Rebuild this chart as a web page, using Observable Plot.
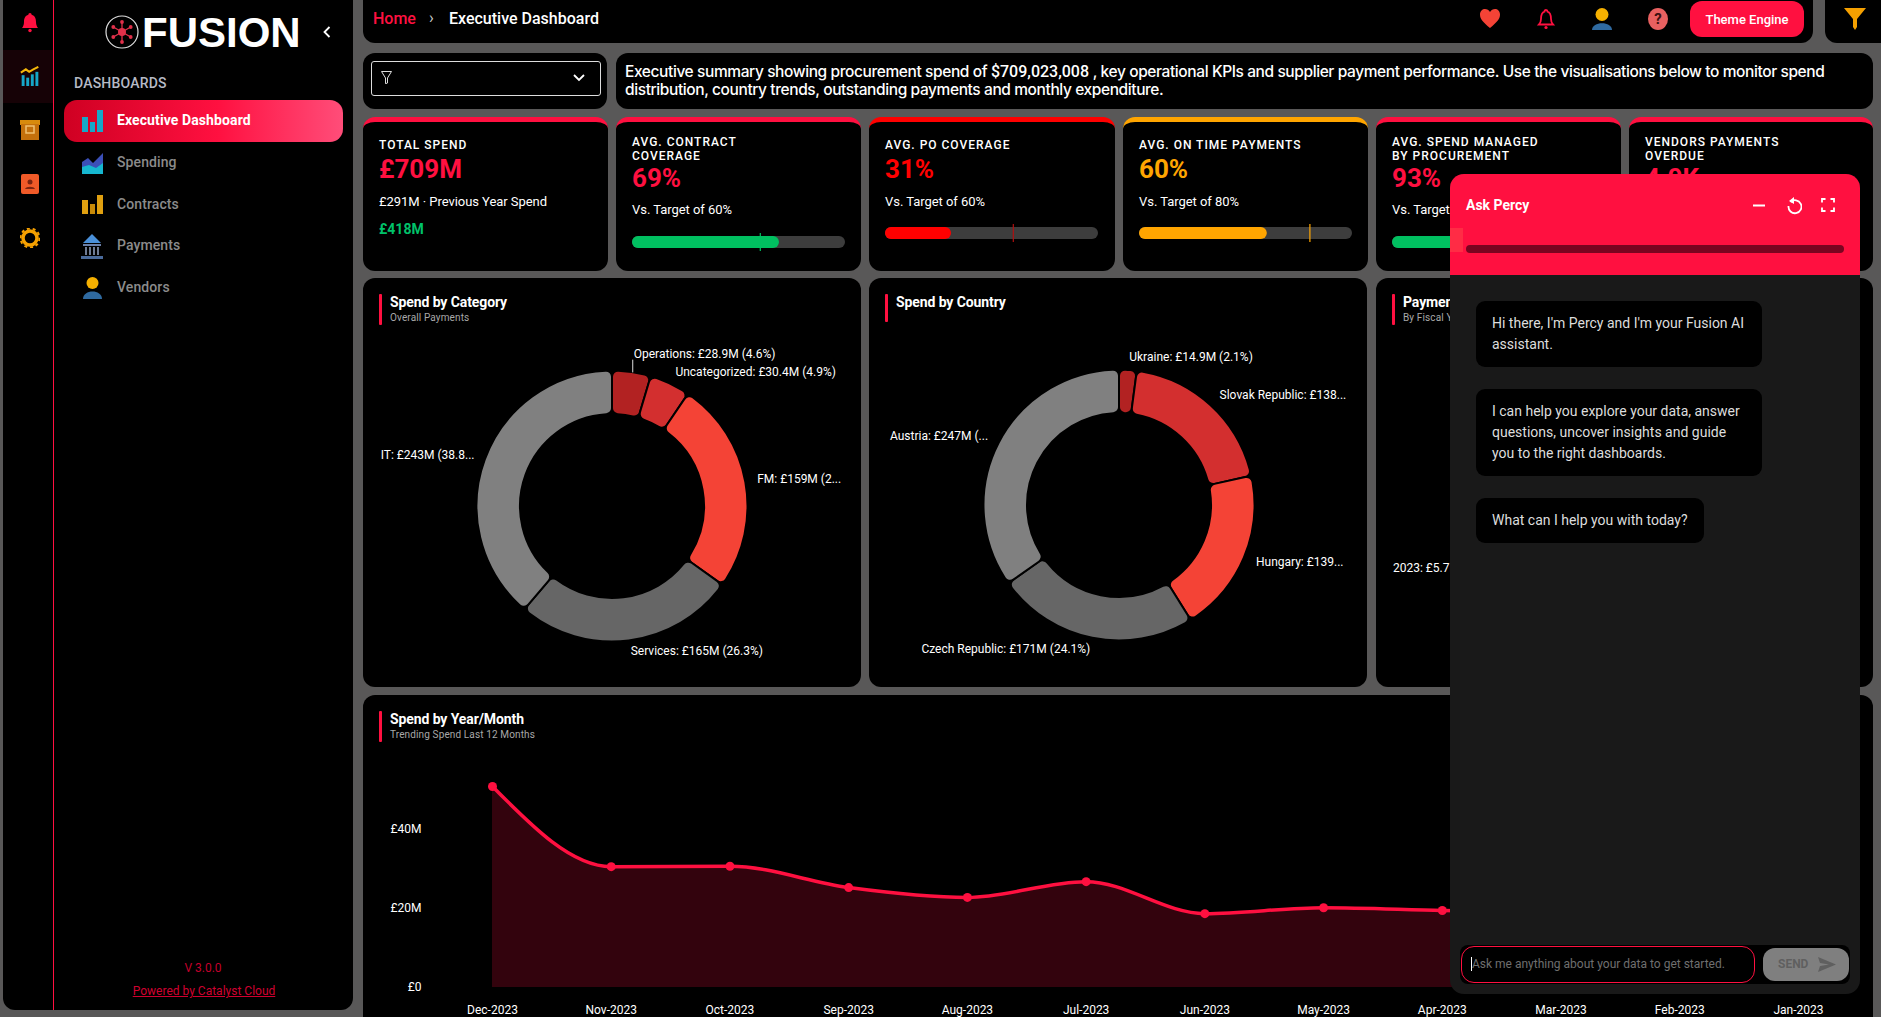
<!DOCTYPE html>
<html lang="en">
<head>
<meta charset="utf-8">
<title>Executive Dashboard</title>
<script src="https://cdn.jsdelivr.net/npm/d3@7"></script>
<script src="https://cdn.jsdelivr.net/npm/@observablehq/plot@0.6"></script>
<style>
html,body{margin:0;padding:0;background:#595858;overflow:hidden;width:1881px;height:1017px;font-family:Roboto,sans-serif;color:#fff}
.a{position:absolute}
.t{position:absolute;white-space:nowrap;line-height:1;transform:translateY(-50%)}
.card{position:absolute;background:#000;border-radius:12px}
.kpi{position:absolute;background:#000;border-radius:12px;top:117px;height:154px;border-top:5px solid #ff1040;box-sizing:border-box}
.ktitle{font-weight:500;font-size:12px;letter-spacing:1px}
.kval{font-weight:700;font-size:26px}
.ksub{font-size:13px;letter-spacing:-.05px}
.nav{font-size:14px;font-weight:500;color:#8b8b8b;letter-spacing:.1px}
.ct{font-weight:700;font-size:14px;letter-spacing:-.1px}
.cs{font-size:10px;color:#a8a8a8;letter-spacing:.13px}
.bub{position:absolute;left:1476px;background:#000;border-radius:9px;box-sizing:border-box;padding:12px 16px;font-size:14px;line-height:21px;color:#ddd}
svg{display:block}
.plot{position:absolute;overflow:visible}
</style>
</head>
<body>
<div id="root" class="a" style="left:0;top:0;width:1881px;height:1017px;overflow:hidden"></div>
<script>
// ---- data ----
const categoryNames  = ["Operations", "Uncategorized", "FM", "Services", "IT"];
const categorySpend  = [28.9, 30.4, 159, 165, 243];
const categoryLabels = ["Operations: £28.9M (4.6%)", "Uncategorized: £30.4M (4.9%)", "FM: £159M (2...", "Services: £165M (26.3%)", "IT: £243M (38.8..."];

const countryNames  = ["Ukraine", "Slovak Republic", "Hungary", "Czech Republic", "Austria"];
const countrySpend  = [14.9, 138, 139, 171, 247];
const countryLabels = ["Ukraine: £14.9M (2.1%)", "Slovak Republic: £138...", "Hungary: £139...", "Czech Republic: £171M (24.1%)", "Austria: £247M (..."];

const sliceColors = ["#b22222", "#d32f2f", "#f44336", "#666666", "#808080"];

const months = ["Dec-2023","Nov-2023","Oct-2023","Sep-2023","Aug-2023","Jul-2023","Jun-2023","May-2023","Apr-2023","Mar-2023","Feb-2023","Jan-2023"];
const monthlySpend = [50.9, 30.6, 30.7, 25.3, 22.8, 26.8, 18.7, 20.2, 19.5, 19.0, 18.0, 17.0]; // last three sit behind the chat panel

const kpiTitles = [["TOTAL SPEND"],["AVG. CONTRACT","COVERAGE"],["AVG. PO COVERAGE"],["AVG. ON TIME PAYMENTS"],["AVG. SPEND MANAGED","BY PROCUREMENT"],["VENDORS PAYMENTS","OVERDUE"]];
const kpiValues = ["£709M","69%","31%","60%","93%","4.0K"];
const kpiNotes  = ["£291M · Previous Year Spend","Vs. Target of 60%","Vs. Target of 60%","Vs. Target of 80%","Vs. Target",""];
const kpiActual = [null,69,31,60,93,null];
const kpiTarget = [null,60,60,80,80,null];
const kpiColors = ["#ff1040","#ff1040","#ff0000","#ffa500","#ff1040","#ff1040"];
const kpiBarColors = [null,"#00c060","#ff0000","#ffa500","#00c060",null];
const kpiTickColors = [null,"#00c060","#b01010","#ffa500","#00c060",null];

const navItems = ["Executive Dashboard","Spending","Contracts","Payments","Vendors"];

// ---- helpers ----
const root = document.getElementById("root");
function el(cls, style, html){const d=document.createElement("div");d.className=cls;d.style.cssText=style;if(html!==undefined)d.innerHTML=html;root.appendChild(d);return d;}
function txt(x,y,s,style="",cls=""){return el("t "+cls,`left:${x}px;top:${y}px;${style}`,s);}
function box(x,y,w,h,style=""){return el("a",`left:${x}px;top:${y}px;width:${w}px;height:${h}px;${style}`);}
function icon(x,y,w,h,inner,vb){return el("a",`left:${x}px;top:${y}px;width:${w}px;height:${h}px`,`<svg width="${w}" height="${h}" viewBox="${vb||`0 0 ${w} ${h}`}">${inner}</svg>`);}
function place(svg,x,y){svg.classList.add("plot");svg.style.left=x+"px";svg.style.top=y+"px";root.appendChild(svg);}

const RED="#ff1040";
const bell=(c)=>`<path d="M10 1c1 0 1.600.8 1.600 1.700C15 3.600 16 6.600 16 10c0 3 1 4.600 2 6H2c1-1.400 2-3 2-6 0-3.400 1-6.400 4.400-7.300C8.400 1.800 9 1 10 1z" fill="${c}"/><circle cx="10" cy="18.500" r="1.700" fill="${c}"/>`;

// ---- sidebar ----
box(3,-12,350,1022,"background:#000;border-radius:12px");
box(3,50,50,53,"background:#160206");
box(53,0,1,1010,`background:${RED}`);
icon(20,12,20,21,bell(RED));
icon(19,66,22,20,`<rect x="2" y="11" width="3.500" height="13" fill="#16a7c8"/><rect x="7.500" y="14" width="3.500" height="10" fill="#16a7c8"/><rect x="13" y="10" width="3.500" height="14" fill="#16a7c8"/><rect x="18.500" y="7" width="3.500" height="17" fill="#16a7c8"/><path d="M1 8l6-4 4 3 5-3 6-3" stroke="#f5b70a" stroke-width="2.400" fill="none"/>`,"0 0 24 24");
icon(20,120,20,20,`<rect x="0" y="0" width="20" height="5" fill="#d88a0c"/><rect x="1" y="4" width="18" height="16" fill="#c4700c"/><rect x="6" y="6" width="8" height="7" fill="none" stroke="#f0c070" stroke-width="1.500"/>`);
icon(21,174,18,20,`<rect width="18" height="20" rx="2" fill="#f05a28"/><circle cx="9" cy="8" r="2.500" fill="#7a2410"/><path d="M4 15c1-3 9-3 10 0z" fill="#7a2410"/>`);
icon(20,228,20,20,`<circle cx="10" cy="10" r="7" fill="none" stroke="#f5a000" stroke-width="3.500"/><circle cx="10" cy="10" r="9.500" fill="none" stroke="#f5a000" stroke-width="2" stroke-dasharray="3 2.900"/>`);

// logo
icon(105,15,34,34,`<circle cx="17" cy="17" r="16" fill="none" stroke="#ddd" stroke-width="1.200"/><g stroke="#e0304a" stroke-width="1.300"><path d="M17 7v20M8.300 12l17.400 10M25.700 12L8.300 22"/></g><circle cx="17" cy="17" r="4" fill="#e0304a"/><g fill="#e0304a"><circle cx="17" cy="7" r="1.900"/><circle cx="17" cy="27" r="1.900"/><circle cx="8.300" cy="12" r="1.900"/><circle cx="25.700" cy="12" r="1.900"/><circle cx="8.300" cy="22" r="1.900"/><circle cx="25.700" cy="22" r="1.900"/></g>`);
txt(142,33,"FUSION","font-family:'Liberation Sans';font-size:42px;font-weight:700");
icon(323,26,8,12,`<path d="M6.500 1L1.500 6l5 5" fill="none" stroke="#fff" stroke-width="1.800"/>`);
txt(74,83,"DASHBOARDS","font-size:14px;font-weight:500;color:#b6bac6;letter-spacing:.2px");
el("a","left:64px;top:100px;width:279px;height:42px;border-radius:13px;background:linear-gradient(90deg,#cf0022 0%,#ff1040 55%,#ff4d79 100%)");
navItems.forEach((n,i)=>txt(117,120+i*41.8,n,i===0?"color:#fff;font-weight:700":"","nav"));
// nav icons
icon(82,110,21,22,`<rect x="0" y="7" width="6" height="15" fill="#16a7c8"/><rect x="8" y="12" width="5" height="10" fill="#16a7c8"/><rect x="15" y="0" width="6" height="22" fill="#16a7c8"/>`);
icon(82,153,21,21,`<path d="M0 21V9l6-4 5 5 10-10v21z" fill="#3b4fb8"/><path d="M0 21v-7l7-2 7 3 7-5v11z" fill="#16b7d0"/>`);
icon(82,195,21,19,`<rect x="0" y="5" width="6" height="14" fill="#e0a010"/><rect x="8" y="9" width="5" height="10" fill="#c88a08"/><rect x="15" y="0" width="6" height="19" fill="#e0a010"/>`);
icon(80,234,24,26,`<path d="M12 0l9 9H3z" fill="#4a90d9"/><rect x="3" y="10" width="18" height="2" fill="#6a7fa8"/><path d="M6 13v8M10 13v8M14 13v8M18 13v8" stroke="#8a9ab8" stroke-width="1.600"/><rect x="1" y="22" width="22" height="3" fill="#4a6a9a"/>`);
icon(82,277,21,22,`<ellipse cx="10.500" cy="6" rx="6" ry="6" fill="#f5b000"/><path d="M1 22c0-10 19-10 19 0z" fill="#2f6aa0"/>`);
txt(203,968,"V 3.0.0","transform:translate(-50%,-50%);font-size:12px;color:#c4002c");
txt(204,991,"Powered by Catalyst Cloud","transform:translate(-50%,-50%);font-size:12px;color:#d00030;text-decoration:underline");

// ---- header ----
box(363,-12,1450,55,"background:#000;border-radius:12px");
box(1825,-12,70,55,"background:#000;border-radius:12px");
txt(373,19,"Home",`font-size:16px;font-weight:500;color:${RED}`);
txt(429,18,"›","font-size:16px;color:#ccc");
txt(449,19,"Executive Dashboard","font-size:16px;font-weight:500");
icon(1479,8,22,21,`<path d="M11 20C4 14 1 11 1 6.500 1 3 3.500 1 6 1c2 0 4 1 5 3 1-2 3-3 5-3 2.500 0 5 2 5 5.500C21 11 18 14 11 20z" fill="#f44336"/>`);
icon(1536,9,20,21,`<path d="M10 1c1 0 1.500.7 1.500 1.600C14.500 3.500 15 6.500 15 10c0 3 1 4.500 2 5.500H3C4 14.500 5 13 5 10c0-3.500.5-6.500 3.500-7.400C8.500 1.700 9 1 10 1z" fill="none" stroke="${RED}" stroke-width="1.800"/><circle cx="10" cy="18.500" r="1.600" fill="${RED}"/>`);
icon(1591,8,22,22,`<ellipse cx="11" cy="6.500" rx="6.500" ry="6.500" fill="#f5b000"/><path d="M1 22c0-9 20-9 20 0z" fill="#2f6aa0"/>`);
icon(1648,8,20,22,`<ellipse cx="10" cy="11" rx="10" ry="11" fill="#e86060"/><text x="10" y="16" text-anchor="middle" font-size="15" font-weight="700" font-family="Roboto" fill="#3a1010">?</text>`);
el("a",`left:1690px;top:1px;width:114px;height:36px;border-radius:12px;background:${RED};display:flex;align-items:center;justify-content:center;font-size:13px;font-weight:500`,"Theme Engine");
icon(1844,8,22,22,`<path d="M0 0h22L13 11v8l-2 3-2-3v-8z" fill="#f5a000"/>`);

// ---- filter + description ----
box(363,53,244,56,"background:#000;border-radius:12px");
box(371,61,228,33,"border:1px solid #ddd;border-radius:3px;box-sizing:content-box");
icon(381,71,11,13,`<path d="M.5.5h10L6.500 7v5l-2 .7V7z" fill="none" stroke="#ddd" stroke-width="1"/>`);
icon(573,74,12,8,`<path d="M1 1l5 5 5-5" fill="none" stroke="#fff" stroke-width="1.800"/>`);
box(616,53,1257,56,"background:#000;border-radius:12px");
const descStyle="font-family:Inter;font-size:15.5px;font-weight:500;letter-spacing:-.4px";
txt(625,72,"Executive summary showing procurement spend of <b style=\"font-family:Roboto;font-size:16px;font-weight:500;letter-spacing:0\">$709,023,008</b> , key operational KPIs and supplier payment performance. Use the visualisations below to monitor spend",descStyle);
txt(625,90,"distribution, country trends, outstanding payments and monthly expenditure.",descStyle);

// ---- KPI cards ----
const kpiX=[363,616,869,1123,1376,1629], kpiW=[245,245,246,245,245,244];
kpiTitles.forEach((lines,i)=>{
  el("kpi",`left:${kpiX[i]}px;width:${kpiW[i]}px;border-top-color:${kpiColors[i]}`);
  const x=kpiX[i]+16, two=lines.length>1;
  lines.forEach((l,j)=>txt(x,(two?142:145)+j*14,l,"","ktitle"));
  txt(x,two?178:169,kpiValues[i],`color:${kpiColors[i]}`,"kval");
  if(kpiNotes[i]) txt(x,two?208.5:201,kpiNotes[i],"","ksub");
  if(kpiActual[i]!=null){
    const bullet=Plot.plot({width:213,height:18,margin:0,style:{background:"transparent"},
      x:{domain:[0,100],axis:null},
      marks:[
        Plot.barX([0],{x1:0,x2:100,fill:"#3d3d3d",insetTop:3,insetBottom:3,rx:6}),
        Plot.barX([kpiActual[i]],{x1:0,x2:d=>d,fill:kpiBarColors[i],insetTop:3,insetBottom:3,rx:6}),
        Plot.ruleX([kpiTarget[i]],{stroke:kpiTickColors[i],strokeWidth:1.2})
      ]});
    place(bullet,x,two?233:224);
  }
});
txt(379,229,"£418M","font-size:14px;font-weight:700;color:#00c26a");

// ---- chart cards ----
el("card","left:363px;top:278px;width:498px;height:409px");
el("card","left:869px;top:278px;width:498px;height:409px");
el("card","left:1376px;top:278px;width:497px;height:409px");
el("card","left:363px;top:695px;width:1510px;height:340px");
function head(x,y,title,sub,h){
  box(x,y,3,h,`background:${RED};border-radius:1px`);
  txt(x+11,y+8,title,"","ct");
  if(sub) txt(x+11,y+24,sub,"","cs");
}
head(379,294,"Spend by Category","Overall Payments",31);
head(885,294,"Spend by Country","",28);
head(1392,294,"Payments","By Fiscal Year",31);
head(379,711,"Spend by Year/Month","Trending Spend Last 12 Months",31);
txt(1393,568,"2023: £5.7M","font-size:12px");

// ---- donuts ----
function donut(names,values,labels,left,top,LAB){
  const W=498,H=360,OUT=135.5,INN=92,MINGAP=18;
  const arcs=d3.pie().sort(null).value(d=>d)(values);
  const rows=arcs.map((a,i)=>{
    const mid=(a.startAngle+a.endAngle)/2;
    return {name:names[i],value:values[i],label:labels[i],a0:a.startAngle,a1:a.endAngle,mid,
      lx:Math.sin(mid)*LAB,ly:Math.cos(mid)*LAB,edge:Math.cos(mid)*OUT,lifted:false};
  });
  for(let i=rows.length-2;i>=0;i--){
    const r=rows[i],n=rows[i+1];
    if(r.lx>0&&n.lx>0&&r.ly>n.ly&&r.ly-n.ly<MINGAP){r.ly=n.ly+MINGAP;r.lifted=true;}
  }
  const lifted=rows.filter(r=>r.lifted);
  const svg=Plot.plot({width:W,height:H,margin:0,style:{background:"transparent",fontFamily:"Roboto"},
    x:{domain:[-W/2,W/2],axis:null},y:{domain:[-H/2,H/2],axis:null},
    color:{domain:names,range:sliceColors},
    marks:[
      Plot.dot(rows,{x:()=>0,y:()=>0,fill:"name",r:1,render(index,scales,values){
        const unit=scales.x(1)-scales.x(0);
        const arc=d3.arc().innerRadius(INN*unit).outerRadius(OUT*unit).cornerRadius(6);
        const g=d3.create("svg:g");
        for(const i of index){
          g.append("path")
           .attr("d",arc({startAngle:rows[i].a0,endAngle:rows[i].a1}))
           .attr("transform",`translate(${values.x[i]},${values.y[i]})`)
           .attr("fill",values.fill[i]).attr("stroke","#000").attr("stroke-width",2);
        }
        return g.node();
      }}),
      Plot.link(lifted,{x1:"lx",x2:"lx",y1:d=>d.ly-4,y2:"edge",stroke:"#ddd",strokeWidth:1,dx:-1}),
      Plot.text(rows.filter(r=>r.lx>=0),{x:"lx",y:"ly",text:"label",textAnchor:"start",fill:"#fff",fontSize:12,dy:-1}),
      Plot.text(rows.filter(r=>r.lx<0),{x:"lx",y:"ly",text:"label",textAnchor:"end",fill:"#fff",fontSize:12,dy:-1})
    ]});
  place(svg,left,top);
}
donut(categoryNames,categorySpend,categoryLabels,363,326,147);
donut(countryNames,countrySpend,countryLabels,869.5,324.5,148);

// ---- monthly line ----
const monthly=months.map((m,i)=>({month:m,spend:monthlySpend[i]}));
const line=Plot.plot({width:1510,height:322,marginLeft:129,marginRight:75,marginTop:55,marginBottom:30,
  style:{background:"transparent",fontFamily:"Roboto",fontSize:"12px",color:"#fff"},
  x:{type:"point",domain:months,padding:0,round:false,label:null},
  y:{domain:[0,60],label:null},
  marks:[
    Plot.areaY(monthly,{x:"month",y:"spend",curve:"monotone-x",fill:RED,fillOpacity:.2}),
    Plot.lineY(monthly,{x:"month",y:"spend",curve:"monotone-x",stroke:RED,strokeWidth:3.5}),
    Plot.dot(monthly,{x:"month",y:"spend",r:4.5,fill:RED}),
    Plot.axisY({ticks:[0,20,40],tickSize:0,tickPadding:71,tickFormat:d=>d===0?"£0":`£${d}M`,label:null,fill:"#fff"}),
    Plot.axisX({tickSize:0,tickPadding:18,label:null,fill:"#fff"})
  ]});
place(line,363,695);

// ---- chat panel ----
box(1450,174,410,820,"background:#191919;border-radius:14px");
box(1450,174,410,101,`background:${RED};border-radius:14px 14px 0 0`);
box(1450,228,13,24,"background:#ff2c45");
box(1466,245,378,8,"background:#7a0420;border-radius:4px");
txt(1466,205,"Ask Percy","font-size:14px;font-weight:700");
icon(1752,200,14,10,`<path d="M1 5.500h12" stroke="#fff" stroke-width="2"/>`);
icon(1786,197,16,18,`<path d="M4.500 5a6.500 6.500 0 1 1-2 4" fill="none" stroke="#fff" stroke-width="1.800"/><path d="M8 0v7L3 4z" fill="#fff"/>`);
icon(1821,198,14,14,`<path d="M1 4.500V1h3.500M9.500 1H13v3.500M13 9.500V13H9.500M4.500 13H1V9.500" fill="none" stroke="#fff" stroke-width="1.800"/>`);
el("bub","top:301px;width:286px;height:66px","Hi there, I'm Percy and I'm your Fusion AI<br>assistant.");
el("bub","top:389px;width:286px;height:87px","I can help you explore your data, answer<br>questions, uncover insights and guide<br>you to the right dashboards.");
el("bub","top:498px;width:228px;height:45px","What can I help you with today?");
box(1460,945,390,39,"background:#000;border-radius:8px");
box(1461,946,292,35,`border:1px solid ${RED};border-radius:13px`);
box(1471,957,1,14,"background:#fff");
txt(1472,963.5,"Ask me anything about your data to get started.","font-size:12px;color:#6f6f6f");
box(1763,948,86,33,"background:#7f7f7f;border-radius:12px");
txt(1778,963.5,"SEND","font-size:12px;font-weight:700;color:#5f5f5f");
icon(1818,957,18,15,`<path d="M0 0l18 7.500L0 15l2-6 9-1.500-9-1.500z" fill="#5f5f5f"/>`);
</script>
</body>
</html>
